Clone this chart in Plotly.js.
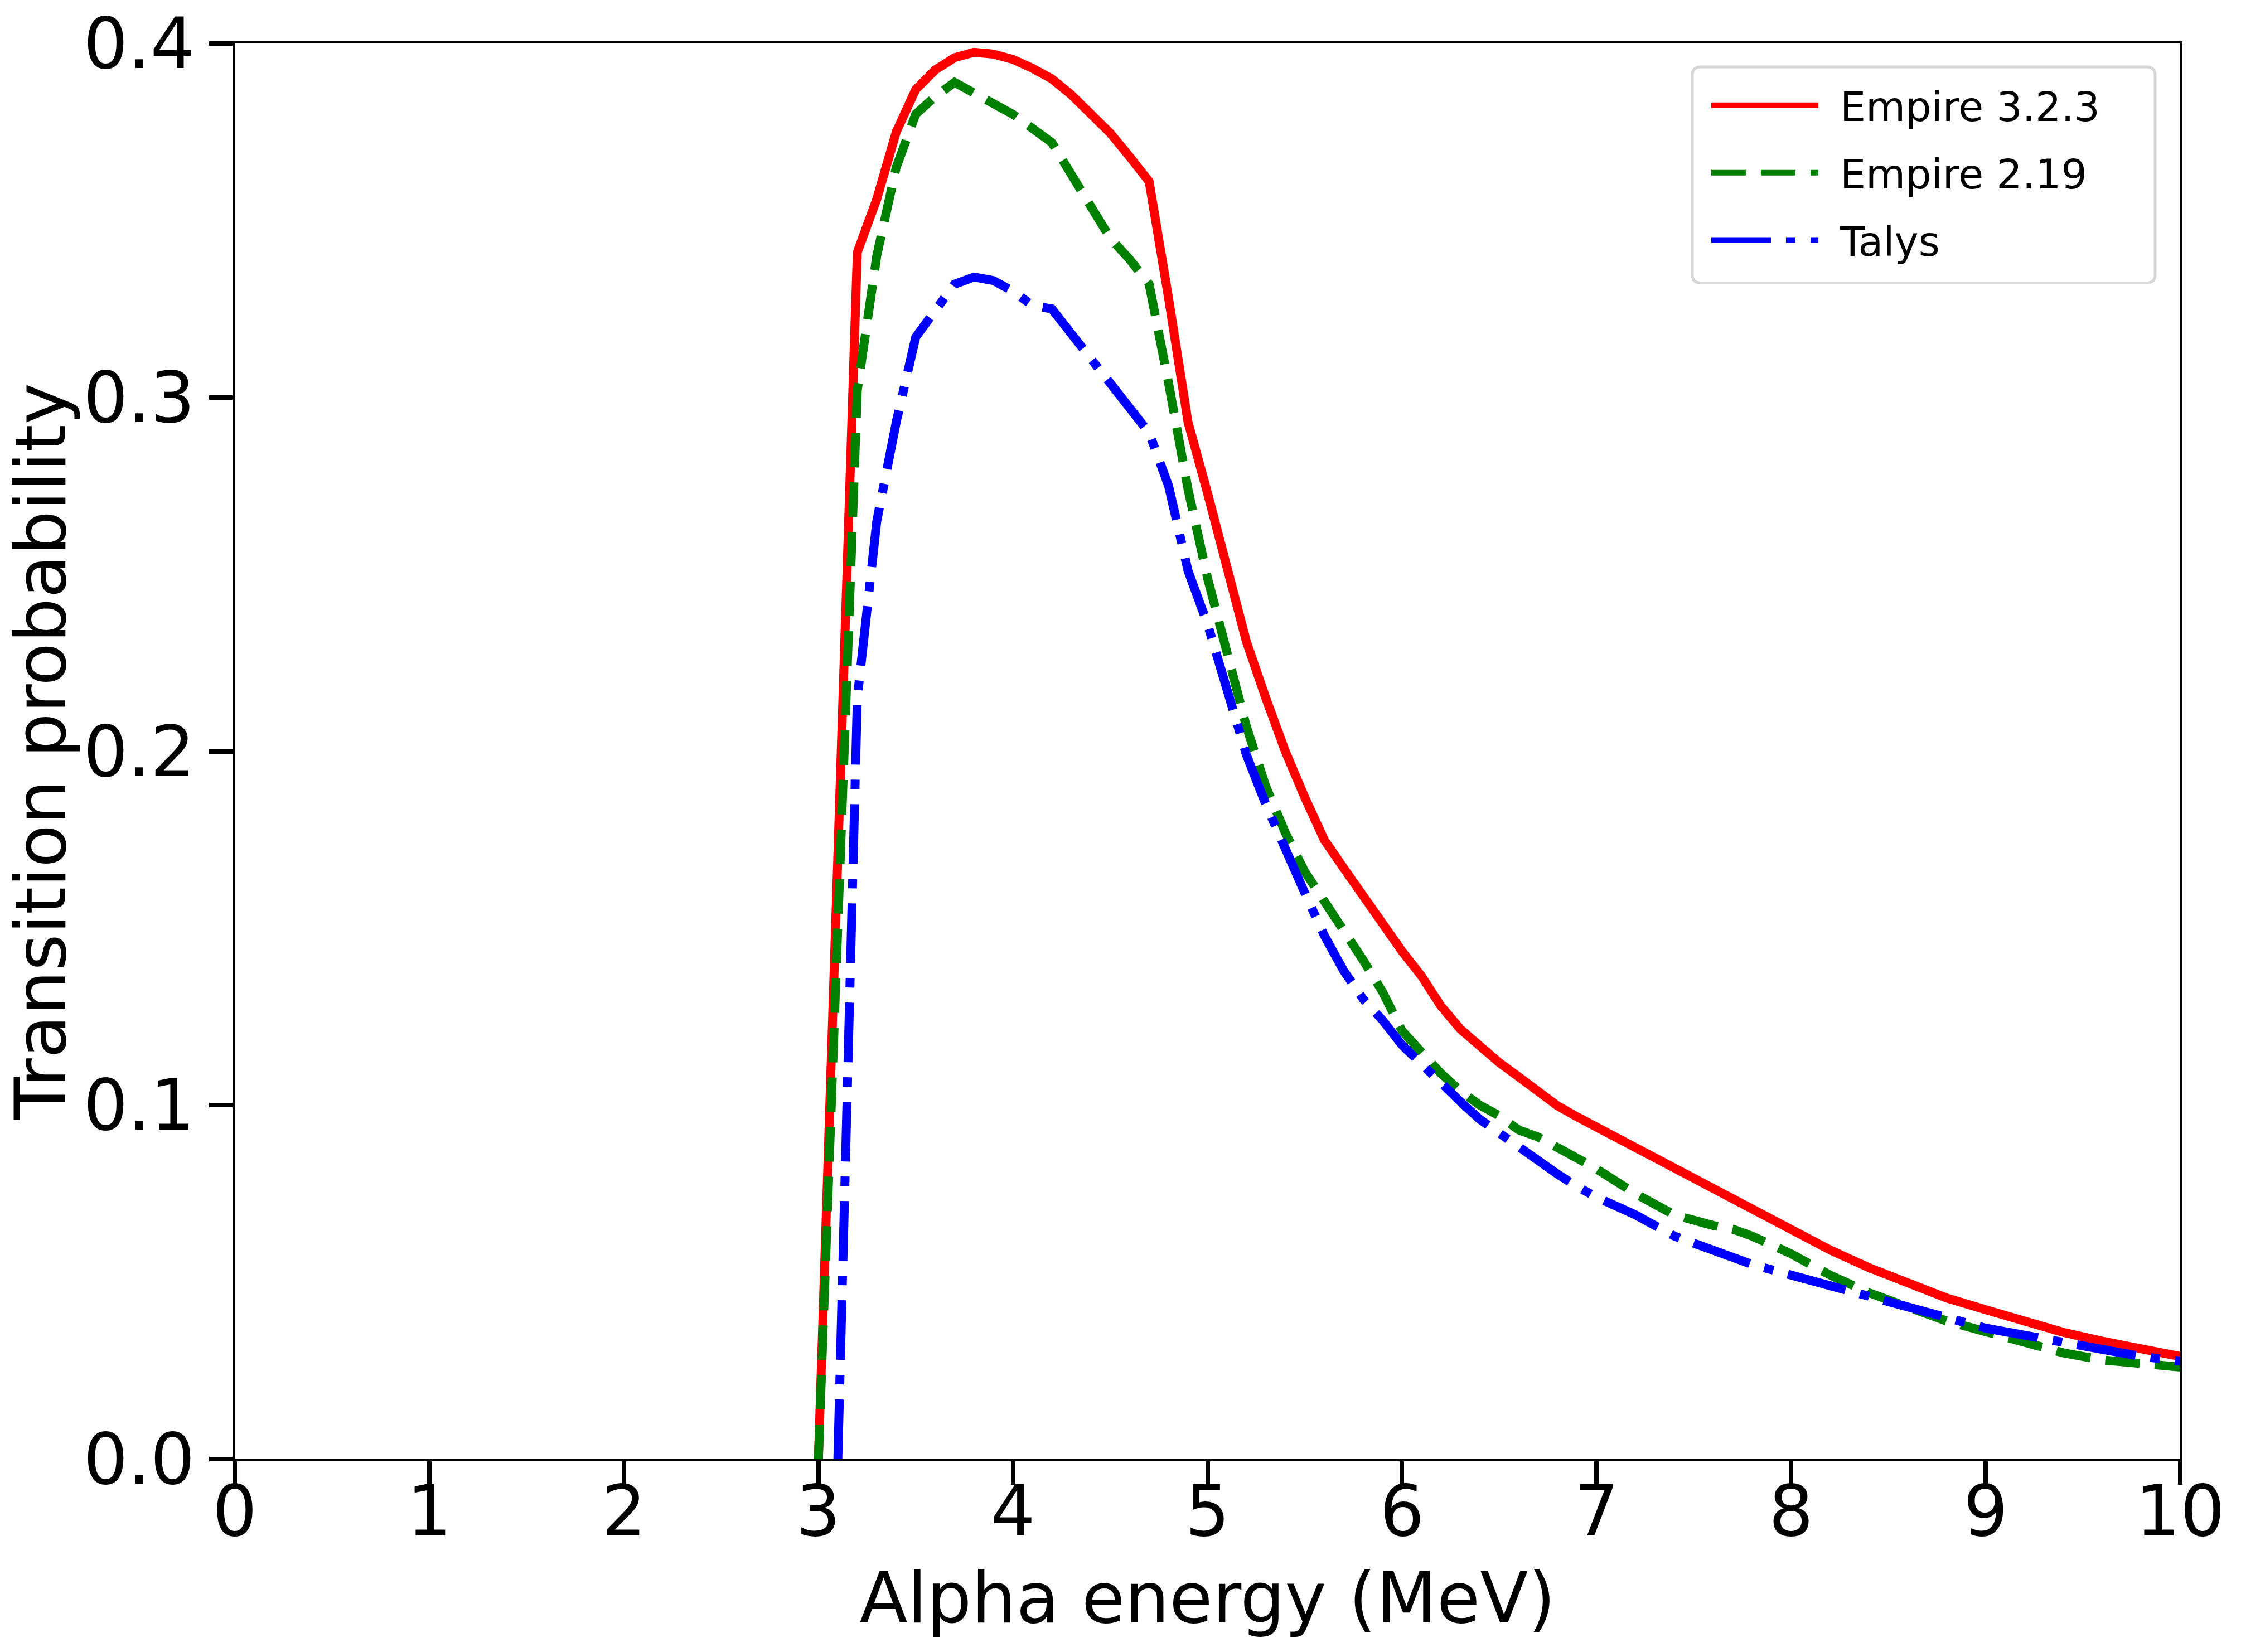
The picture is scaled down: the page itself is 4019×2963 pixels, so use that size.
<!DOCTYPE html>
<html>
<head>
<meta charset="utf-8">
<script src="https://cdn.plot.ly/plotly-3.0.1.min.js"></script>
<style>
  html, body { margin: 0; padding: 0; background: #fff; }
  #chart { width: 4019px; height: 2963px; }
</style>
</head>
<body>
<div id="chart"></div>
<script>
// Alpha energies (MeV) and transition probabilities
const energyEmpire323 = [3.0, 3.2, 3.3, 3.4, 3.5, 3.6, 3.7, 3.8, 3.9, 4.0, 4.1, 4.2, 4.3, 4.4, 4.5, 4.6, 4.7,
  4.8, 4.9, 5.0, 5.1, 5.2, 5.3, 5.4, 5.5, 5.6, 5.7, 5.8, 5.9, 6.0, 6.1, 6.2, 6.3, 6.4, 6.5, 6.6, 6.7, 6.8, 6.9,
  7.0, 7.2, 7.4, 7.6, 7.8, 8.0, 8.2, 8.4, 8.6, 8.8, 9.0, 9.2, 9.4, 9.6, 9.8, 10.0];
const probEmpire323 = [0, 0.341, 0.356, 0.375, 0.387, 0.3925, 0.396, 0.3975, 0.397, 0.3955, 0.393, 0.390, 0.3855,
  0.3805, 0.3747, 0.368, 0.361, 0.328, 0.293, 0.273, 0.251, 0.231, 0.215, 0.200, 0.187, 0.175, 0.167, 0.159,
  0.152, 0.1435, 0.1365, 0.128, 0.1215, 0.1165, 0.112, 0.108, 0.1035, 0.0998, 0.0967, 0.0938, 0.0876, 0.082,
  0.0766, 0.0705, 0.0646, 0.0591, 0.0541, 0.050, 0.0455, 0.0422, 0.0389, 0.0358, 0.0333, 0.031, 0.029];

const energyEmpire219 = [3.0, 3.2, 3.3, 3.4, 3.5, 3.6, 3.7, 3.8, 3.9, 4.0, 4.1, 4.2, 4.3, 4.4, 4.5, 4.6, 4.7,
  4.8, 4.9, 5.0, 5.1, 5.2, 5.3, 5.4, 5.5, 5.6, 5.7, 5.8, 5.9, 6.0, 6.1, 6.2, 6.3, 6.4, 6.5, 6.6, 6.7, 6.8, 6.9,
  7.0, 7.2, 7.4, 7.6, 7.7, 7.8, 8.0, 8.2, 8.4, 8.6, 8.8, 9.0, 9.2, 9.4, 9.6, 9.8, 10.0];
const probEmpire219 = [0, 0.302, 0.340, 0.365, 0.380, 0.385, 0.389, 0.386, 0.383, 0.380, 0.376, 0.372, 0.363,
  0.354, 0.345, 0.339, 0.332, 0.304, 0.274, 0.249, 0.227, 0.207, 0.190, 0.177, 0.166, 0.158, 0.150, 0.141,
  0.132, 0.121, 0.115, 0.109, 0.104, 0.100, 0.097, 0.093, 0.091, 0.088, 0.085, 0.082, 0.075, 0.069, 0.066,
  0.065, 0.063, 0.058, 0.052, 0.047, 0.043, 0.039, 0.036, 0.033, 0.030, 0.028, 0.027, 0.026];

const energyTalys = [3.1, 3.2, 3.3, 3.4, 3.5, 3.6, 3.7, 3.8, 3.9, 4.0, 4.1, 4.2, 4.3, 4.4, 4.5, 4.6, 4.7,
  4.8, 4.9, 5.0, 5.1, 5.2, 5.3, 5.4, 5.5, 5.6, 5.7, 5.8, 5.9, 6.0, 6.1, 6.2, 6.3, 6.4, 6.5, 6.6, 6.7, 6.8, 6.9,
  7.0, 7.2, 7.4, 7.6, 7.8, 8.0, 8.2, 8.4, 8.6, 8.8, 9.0, 9.2, 9.4, 9.6, 9.8, 10.0];
const probTalys = [0, 0.215, 0.265, 0.293, 0.317, 0.325, 0.332, 0.334, 0.333, 0.330, 0.326, 0.325, 0.318,
  0.311, 0.304, 0.298, 0.290, 0.275, 0.251, 0.236, 0.218, 0.199, 0.185, 0.172, 0.160, 0.148, 0.138, 0.130,
  0.124, 0.117, 0.1115, 0.106, 0.101, 0.096, 0.092, 0.088, 0.084, 0.0805, 0.077, 0.074, 0.069, 0.063, 0.059,
  0.055, 0.052, 0.049, 0.046, 0.043, 0.040, 0.037, 0.035, 0.033, 0.031, 0.029, 0.0277];

const seriesNames = ['Empire 3.2.3', 'Empire 2.19', 'Talys'];
const yTickVals = [0, 0.1, 0.2, 0.3, 0.4];
const xTickVals = [0, 1, 2, 3, 4, 5, 6, 7, 8, 9, 10];

const FONT = 'DejaVu Sans, Liberation Sans, sans-serif';
const LW = 16;

const traces = [
  {
    x: energyEmpire323, y: probEmpire323, name: seriesNames[0], legendgroup: 'a',
    type: 'scatter', mode: 'lines',
    line: { color: '#ff0000', width: LW }
  },
  {
    x: energyEmpire219, y: probEmpire219, name: seriesNames[1], legendgroup: 'b',
    type: 'scatter', mode: 'lines',
    line: { color: '#008000', width: LW, dash: '62px,27px' }
  },
  {
    x: energyTalys, y: probTalys, name: seriesNames[2], legendgroup: 'c',
    type: 'scatter', mode: 'lines',
    line: { color: '#0000ff', width: LW, dash: '107px,27px,17px,27px' }
  }
];

const axisCommon = {
  showgrid: false,
  zeroline: false,
  showline: true,
  mirror: true,
  linecolor: '#000',
  linewidth: 4,
  ticks: 'outside',
  ticklen: 42,
  tickwidth: 8,
  tickcolor: '#000',
  tickfont: { family: FONT, size: 126, color: '#000' }
};

// legend frame (rounded, light grey) drawn as a paper shape
function roundedBox(x0, y0, x1, y1, rx, ry) {
  return `M${x0 + rx},${y1} L${x1 - rx},${y1} Q${x1},${y1} ${x1},${y1 - ry} ` +
    `L${x1},${y0 + ry} Q${x1},${y0} ${x1 - rx},${y0} L${x0 + rx},${y0} ` +
    `Q${x0},${y0} ${x0},${y0 + ry} L${x0},${y1 - ry} Q${x0},${y1} ${x0 + rx},${y1} Z`;
}

const layout = {
  width: 4019,
  height: 2963,
  paper_bgcolor: '#fff',
  plot_bgcolor: '#fff',
  margin: { l: 421, r: 109, t: 78, b: 346, pad: 0 },
  font: { family: FONT, color: '#000' },
  xaxis: Object.assign({}, axisCommon, {
    range: [0, 10],
    tickvals: xTickVals,
    ticktext: xTickVals.map(String),
    ticklabelstandoff: -60,
    title: { text: 'Alpha energy (MeV)', font: { family: FONT, size: 126 }, standoff: 40 }
  }),
  yaxis: Object.assign({}, axisCommon, {
    range: [0, 0.4],
    tickvals: yTickVals,
    ticktext: yTickVals.map(v => v.toFixed(1)),
    title: { text: 'Transition probability', font: { family: FONT, size: 126 }, standoff: 30 }
  }),
  shapes: [{
    type: 'path', xref: 'paper', yref: 'paper', layer: 'above',
    path: roundedBox(0.7492, 0.8308, 0.9871, 0.9835, 0.0045, 0.006),
    line: { color: '#d6d6d6', width: 5 },
    fillcolor: 'rgba(255,255,255,0.8)'
  }],
  showlegend: true,
  legend: {
    x: 0.7575, y: 0.9776, xanchor: 'left', yanchor: 'top',
    bgcolor: 'rgba(0,0,0,0)',
    borderwidth: 0,
    traceorder: 'grouped',
    tracegroupgap: 23,
    font: { family: FONT, size: 73, color: '#000' },
    itemwidth: 192
  }
};

Plotly.newPlot('chart', traces, layout, { staticPlot: true }).then(gd => {
  // leave a gap between the legend line sample and its label, as in the figure
  gd.querySelectorAll('.legend [clip-path]').forEach(el => el.removeAttribute('clip-path'));
  gd.querySelectorAll('.legend .legendtext').forEach(t => {
    t.setAttribute('x', parseFloat(t.getAttribute('x')) + 34);
  });
});
</script>
</body>
</html>
